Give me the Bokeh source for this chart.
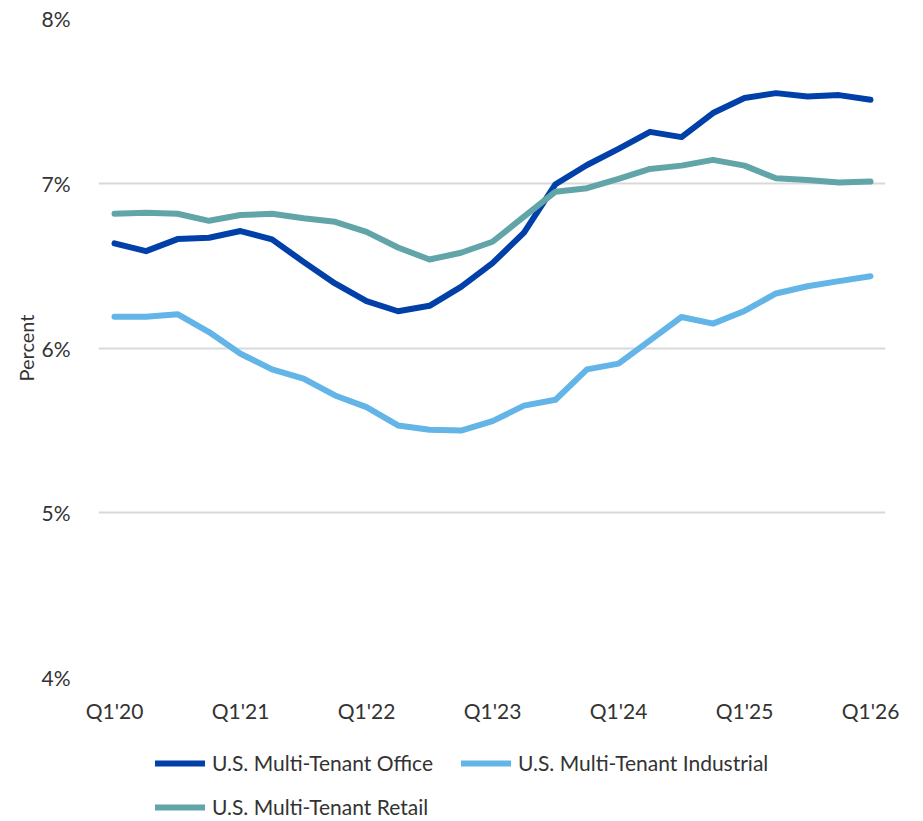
from bokeh.plotting import figure
from bokeh.layouts import column
from bokeh.models import FixedTicker, Legend, LegendItem, Range1d
from bokeh.embed import file_html
from bokeh.resources import INLINE

quarters = list(range(25))
tick_positions = [0, 4, 8, 12, 16, 20, 24]
tick_labels = ["Q1'20", "Q1'21", "Q1'22", "Q1'23", "Q1'24", "Q1'25", "Q1'26"]
y_ticks = [4, 5, 6, 7, 8]
y_labels = ["4%", "5%", "6%", "7%", "8%"]

office = [6.635, 6.588, 6.661, 6.669, 6.710, 6.659, 6.523, 6.392, 6.284, 6.223,
          6.256, 6.371, 6.515, 6.700, 6.994, 7.111, 7.209, 7.312, 7.280, 7.426,
          7.517, 7.547, 7.527, 7.535, 7.507]
industrial = [6.189, 6.189, 6.205, 6.097, 5.965, 5.870, 5.814, 5.712, 5.641, 5.530,
              5.504, 5.499, 5.556, 5.650, 5.686, 5.870, 5.905, 6.046, 6.188, 6.148,
              6.225, 6.331, 6.375, 6.406, 6.436]
retail = [6.815, 6.821, 6.815, 6.772, 6.807, 6.815, 6.787, 6.766, 6.705, 6.610,
          6.537, 6.578, 6.645, 6.797, 6.949, 6.970, 7.026, 7.087, 7.107, 7.142,
          7.107, 7.030, 7.020, 7.004, 7.010]

names = ["U.S. Multi-Tenant Office", "U.S. Multi-Tenant Industrial", "U.S. Multi-Tenant Retail"]
colors = ["#0040A8", "#62B5E6", "#62A5A8"]
series = [office, industrial, retail]

FONT = "Lato"
TEXT = "#333333"
LW = 6

W = 905
p = figure(width=W, height=727, output_backend="svg", toolbar_location=None,
           x_range=Range1d(-0.508, 24.476), y_range=Range1d(4, 8),
           min_border_left=98, min_border_right=W - 885, min_border_top=18, min_border_bottom=50)
p.outline_line_color = None

for ys, c in zip(series, colors):
    p.line(quarters, ys, line_color=c, line_width=LW, line_cap="round", line_join="round")

p.xgrid.visible = False
p.ygrid.ticker = FixedTicker(ticks=y_ticks)
p.ygrid.grid_line_color = "#D9D9D9"
p.ygrid.grid_line_width = 2

xax = p.xaxis[0]
yax = p.yaxis[0]
xax.ticker = FixedTicker(ticks=tick_positions)
xax.major_label_overrides = {t: l for t, l in zip(tick_positions, tick_labels)}
yax.ticker = FixedTicker(ticks=y_ticks)
yax.major_label_overrides = {t: l for t, l in zip(y_ticks, y_labels)}

for ax in (xax, yax):
    ax.axis_line_color = None
    ax.major_tick_line_color = None
    ax.minor_tick_line_color = None
    ax.major_label_text_font = FONT
    ax.major_label_text_font_size = "21px"
    ax.major_label_text_color = TEXT

xax.major_label_standoff = 14
yax.major_label_standoff = 22
yax.axis_label = "Percent"
yax.axis_label_text_font = FONT
yax.axis_label_text_font_size = "20px"
yax.axis_label_text_font_style = "normal"
yax.axis_label_text_color = TEXT
yax.axis_label_standoff = 0

# legend strip below the chart (series kept outside its visible range; only the legend shows)
p2 = figure(width=W, height=92, output_backend="svg", toolbar_location=None,
            x_axis_type=None, y_axis_type=None, x_range=Range1d(0, 1), y_range=Range1d(0, 1),
            min_border_left=0, min_border_right=0, min_border_top=0, min_border_bottom=0)
p2.outline_line_color = None
p2.grid.visible = False
swatches = [p2.line(quarters, ys, line_color=c, line_width=LW, line_cap="round")
            for ys, c in zip(series, colors)]

items = [LegendItem(label=n, renderers=[r]) for n, r in zip(names, swatches)]
legend = Legend(items=items, orientation="horizontal", ncols=2,
                location=(57, 0), padding=0, margin=0, spacing=19,
                glyph_width=50, glyph_height=20, label_height=20, label_width=230,
                label_standoff=7,
                label_text_font=FONT, label_text_font_size="21px", label_text_color=TEXT,
                border_line_alpha=0, background_fill_alpha=0)
p2.add_layout(legend, "center")

layout = column(p, p2, spacing=0)
open("out.html", "w").write(file_html(layout, INLINE))
